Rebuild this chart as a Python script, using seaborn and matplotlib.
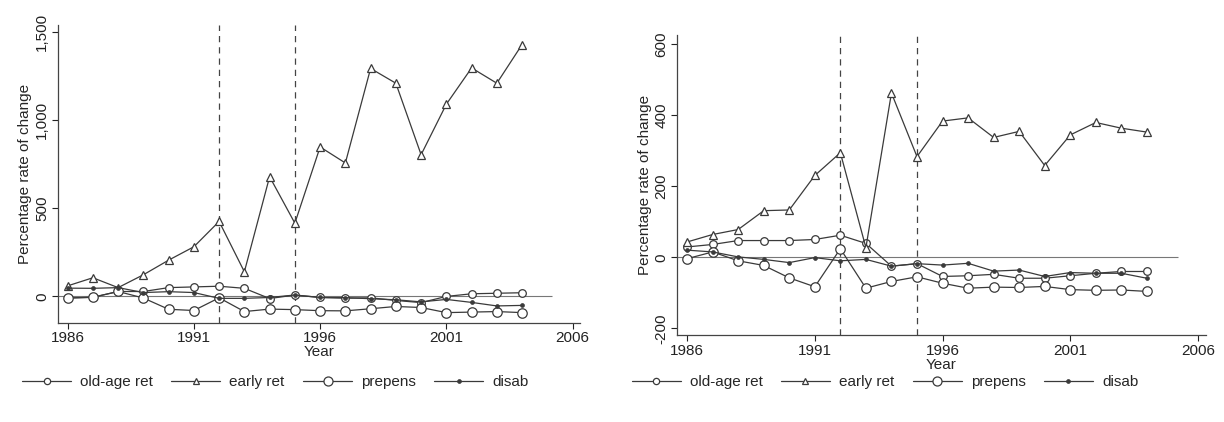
import matplotlib
matplotlib.use("Agg")
import matplotlib.pyplot as plt
import seaborn as sns
import pandas as pd
from matplotlib.lines import Line2D

years = list(range(1986, 2005))

# Left panel
L_old = [-9, -5, 28, 28, 50, 54, 58, 46, -12, 8, -6, -10, -8, -23, -35, 0, 15, 18, 21]
L_early = [60, 106, 50, 123, 206, 282, 426, 140, 680, 416, 849, 758, 1295, 1211, 805, 1092, 1298, 1211, 1431]
L_prepens = [-9, -5, 28, -9, -73, -80, -8, -86, -72, -75, -81, -82, -70, -57, -63, -92, -89, -86, -92]
L_disab = [47, 46, 50, 22, 27, 22, -11, -11, -6, 8, -6, -7, -13, -19, -31, -17, -34, -54, -51]

# Right panel
R_old = [29, 36, 47, 47, 47, 50, 62, 39, -25, -18, -54, -52, -48, -59, -59, -52, -45, -40, -40]
R_early = [43, 64, 78, 131, 133, 230, 294, 27, 462, 283, 383, 392, 337, 354, 258, 344, 379, 363, 352]
R_prepens = [-4, 15, -10, -23, -58, -83, 24, -87, -68, -55, -73, -87, -84, -85, -82, -91, -93, -92, -96]
R_disab = [20, 15, 1, -6, -15, -1, -10, -6, -25, -18, -22, -17, -39, -36, -54, -43, -45, -45, -59]

series_names = ["old-age ret", "early ret", "prepens", "disab"]
x_ticks = [1986, 1991, 1996, 2001, 2006]
L_yticks = [0, 500, 1000, 1500]
L_ytick_labels = ["0", "500", "1,000", "1,500"]
R_yticks = [-200, 0, 200, 400, 600]
R_ytick_labels = ["-200", "0", "200", "400", "600"]
reform_years = [1992, 1995]

sns.set_style("ticks")
plt.rcParams["font.family"] = ["Liberation Sans", "DejaVu Sans"]

col = "#3a3a3a"
styles = {
    "old-age ret": dict(marker="o", markersize=5.5, markerfacecolor="white", markeredgecolor=col, markeredgewidth=0.9),
    "early ret": dict(marker="^", markersize=5.5, markerfacecolor="white", markeredgecolor=col, markeredgewidth=0.9),
    "prepens": dict(marker="o", markersize=6.8, markerfacecolor="white", markeredgecolor=col, markeredgewidth=0.9),
    "disab": dict(marker="o", markersize=2.8, markerfacecolor=col, markeredgecolor=col, markeredgewidth=0.5),
}
legend_sizes = {"old-age ret": 4.5, "early ret": 4.5, "prepens": 6.5, "disab": 2.8}

fig = plt.figure(figsize=(12.24, 4.22), dpi=100)
axL = fig.add_axes([0.047, 0.235, 0.427, 0.705])
axR = fig.add_axes([0.553, 0.205, 0.432, 0.712])


def draw(ax, data, ylim, yticks, ylabels, legend_x):
    df = pd.DataFrame({"Year": years * 4,
                       "value": sum(data, []),
                       "series": sum([[n] * len(years) for n in series_names], [])})
    ax.hlines(0, 1985.6, 2005.2, color="#777777", lw=0.8, zorder=1)
    for ry in reform_years:
        ax.axvline(ry, color="#444444", lw=0.9, ls=(0, (5, 4)), zorder=1)
    for n in series_names:
        sub = df[df["series"] == n]
        sns.lineplot(data=sub, x="Year", y="value", ax=ax, color=col, lw=0.9,
                     legend=False, zorder=3, **styles[n])
    ax.set_xlim(1985.6, 2006.3)
    ax.set_ylim(*ylim)
    ax.set_xticks(x_ticks)
    ax.set_xticklabels([str(t) for t in x_ticks], fontsize=11)
    ax.set_yticks(yticks)
    ax.set_yticklabels(ylabels, fontsize=11, rotation=90, va="center")
    ax.set_xlabel("Year", fontsize=11, labelpad=0)
    ax.set_ylabel("Percentage rate of change", fontsize=11, labelpad=2)
    ax.tick_params(colors="#222222", length=4, width=0.8, pad=2)
    sns.despine(ax=ax)
    for s in ("left", "bottom"):
        ax.spines[s].set_color("#444444")
        ax.spines[s].set_linewidth(0.9)
    handles = []
    for n in series_names:
        st = dict(styles[n])
        st["markersize"] = legend_sizes[n]
        handles.append(Line2D([0], [0], color=col, lw=0.9, **st))
    ax.legend(handles, series_names, loc="center", bbox_to_anchor=(legend_x, 0.095),
              bbox_transform=fig.transFigure,
              ncol=4, frameon=False, fontsize=11, handlelength=3.2, columnspacing=1.2,
              handletextpad=0.6)


draw(axL, [L_old, L_early, L_prepens, L_disab], (-150, 1540), L_yticks, L_ytick_labels, 0.225)
draw(axR, [R_old, R_early, R_prepens, R_disab], (-220, 625), R_yticks, R_ytick_labels, 0.723)

fig.savefig("out.png", dpi=100)
